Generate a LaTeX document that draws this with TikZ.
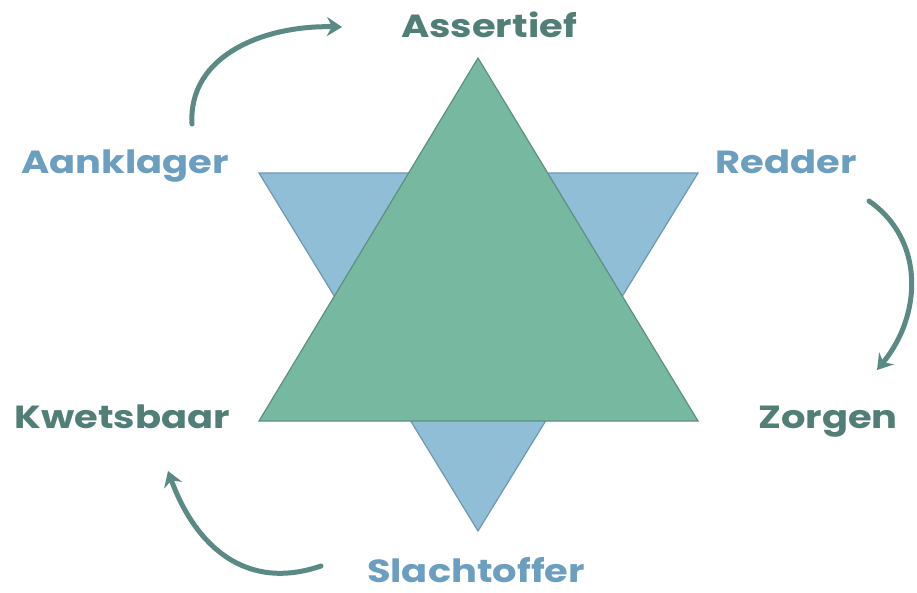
\documentclass[tikz,border=0pt]{standalone}
\usepackage{fontspec}
\setmainfont{Poppins}[FakeStretch=1.2]
\usetikzlibrary{arrows.meta}
\definecolor{greenfill}{HTML}{76B8A0}
\definecolor{greenline}{HTML}{5F8F82}
\definecolor{bluefill}{HTML}{8FBED6}
\definecolor{blueline}{HTML}{6F98AE}
\definecolor{greentext}{HTML}{517F78}
\definecolor{bluetext}{HTML}{6C9EBF}
\definecolor{arrowcol}{HTML}{5B8A85}
\begin{document}
\begin{tikzpicture}[x=1pt,y=-1pt,
  lbl/.style={font=\bfseries\fontsize{32}{34}\selectfont, inner sep=0pt, anchor=base},
  glbl/.style={lbl, text=greentext},
  blbl/.style={lbl, text=bluetext},
  cyc/.style={draw=arrowcol, line width=5pt, line cap=round,
    -{Stealth[length=15pt,width=19pt,inset=5pt]}}]
\useasboundingbox[fill=white] (0,0) rectangle (917,592);
% blue inverted triangle
\coordinate (b1) at (259,173);
\coordinate (b2) at (698,173);
\coordinate (b3) at (478,531);
\draw[fill=bluefill, draw=blueline, line width=1.2pt, line join=miter] (b1) -- (b2) -- (b3) -- cycle;
% green triangle
\coordinate (g1) at (478,58);
\coordinate (g2) at (698,421);
\coordinate (g3) at (259,421);
\draw[fill=greenfill, draw=greenline, line width=1.2pt, line join=miter] (g1) -- (g2) -- (g3) -- cycle;
% labels
\node[glbl] (assertief) at (489,37) {Assertief};
\node[blbl] (aanklager) at (125,173) {Aanklager};
\node[blbl] (redder) at (786,173) {Redder};
\node[glbl] (kwetsbaar) at (122,428) {Kwetsbaar};
\node[glbl] (zorgen) at (828,428) {Zorgen};
\node[blbl] (slachtoffer) at (476,582) {Slachtoffer};
% cycle arrows
\coordinate (a1s) at (192,124);
\coordinate (a1e) at (342,27);
\draw[cyc] (a1s) .. controls (188,55) and (265,25) .. (a1e);
\coordinate (a2s) at (869,201);
\coordinate (a2e) at (877,370);
\draw[cyc] (a2s) .. controls (925,240) and (922,315) .. (a2e);
\coordinate (a3s) at (321,566);
\coordinate (a3e) at (168,471);
\draw[cyc] (a3s) .. controls (245,592) and (195,545) .. (a3e);
\end{tikzpicture}
\end{document}
